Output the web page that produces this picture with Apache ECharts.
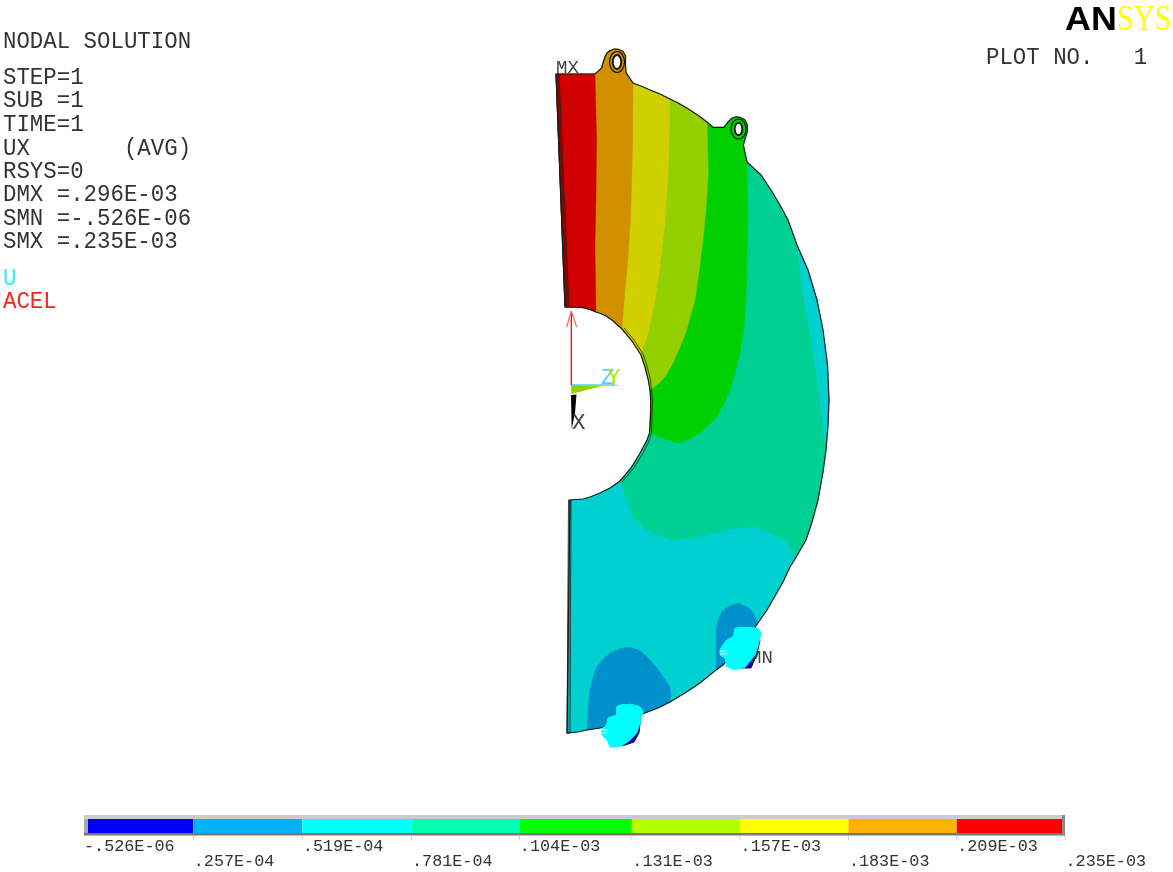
<!DOCTYPE html>
<html><head><meta charset="utf-8">
<style>html,body{margin:0;padding:0;background:#fff}#c{width:1173px;height:872px}</style>
<script src="https://cdn.jsdelivr.net/npm/echarts@6/dist/echarts.min.js"></script>
</head><body><div id="c"></div>
<script>
// ---- colour scale ----
const legendValues=[-0.526e-6,0.257e-4,0.519e-4,0.781e-4,0.104e-3,0.131e-3,0.157e-3,0.183e-3,0.209e-3,0.235e-3];
const legendLabels=['-.526E-06','.257E-04','.519E-04','.781E-04','.104E-03','.131E-03','.157E-03','.183E-03','.209E-03','.235E-03'];
const legendColors=['#0000FF','#00B2FF','#00FFFF','#00FFB2','#00FF00','#B2FF00','#FFFF00','#FFB200','#FF0000'];
const plotColors=['#0000D0','#0090CC','#00D0D0','#00D094','#00D000','#94D000','#D0D000','#D09000','#D00000'];
// ---- geometry (model outline and contour lines) ----
const outerEdge=[[556,74],[595,74],[601.7,68],[603,63],[605,56.7],[607,53],[610,50.7],[614,49],[618.3,49.3],[623,51.5],[625.5,56],[625.5,65],[626,72.7],[633,83],[641,86],[650,90],[660,94],[670,99],[680,104],[690,110],[699,116],[707,122],[713,127.3],[724,127.3],[728,122],[731.7,118.3],[736,116.8],[740,117.3],[745,120],[747.3,125],[747.3,131.7],[745,139],[743.3,145],[747,162],[761,175],[771,190],[780,205],[788,220],[797,245],[808,270],[817,300],[823,330],[827.5,365],[829,400],[828,425],[826,450],[823,472],[818,500],[812,522],[806,540],[795,559],[790,567],[783,582],[775,596],[767,610],[758,623],[749,636],[740,648],[723,665],[716,670],[700,683],[685,693],[670,702],[658,708],[645,713],[622,722],[600,728],[587,730],[578,732],[567,733]];
const holeEdge=[[565,307],[581.7,307.3],[590,309.5],[596,312],[600,313.3],[606,316],[612,320],[622,329],[632,341],[641,355],[645,367],[648.3,380],[650,390],[650.7,400],[650.5,415],[649.5,433],[647,440],[640,453.3],[631,468],[620,481],[610,488],[600,493],[590,497],[583,499],[570,500]];
const contourRed=[[595,74],[596.7,140],[596,200],[595,247],[596,312]];
const contourOrange=[[633,83],[632.7,140],[631.5,190],[630,227],[628,260],[625,290],[622,329]];
const contourYellow=[[670,99],[669.3,140],[667.5,185],[665,223],[660,265],[655,300],[648,333],[641,355]];
const contourYellowGreen=[[707,122],[708.3,173],[706,210],[703,240],[699,272],[695,300],[686.7,330],[680,347],[673,363],[665,377],[658,384],[650,390]];
const contourGreen=[[747,162],[748,207],[747.5,245],[746.7,273],[746,300],[744,328],[740,353],[735,373],[730,390],[724,404],[716.7,417],[708,426],[700,433],[690,439],[678.3,443.3],[664,439],[649.5,433]];
const contourSeaGreen=[[795,559],[791,550],[786.7,541.7],[770,533],[755,526.7],[742,528],[730,529],[706.7,535],[690,538],[673,540.7],[660,536],[646.7,530],[633,518],[627,500],[620,481]];
const contourTeal=[[797,245],[800,270],[803,295],[810,333],[818,385],[826,450]];
const contourBlueRight=[[716,670],[716,630],[718,620],[721.7,611.7],[729,606],[738,603.3],[746,606],[752,611],[755,616],[758,623]];
const contourBlueBottom=[[587,730],[588,708],[590,690],[593,677],[596.7,667],[603,659],[610,653],[619,649],[628,647.3],[635,648.5],[642,652],[650,660],[657,668],[664,678],[670,687],[671,695],[670,702]];
const leftStripTop=[[556,74],[559,74],[569,307],[565,307]];
const leftStripBottom=[[567,733],[570,733],[571,500],[568.5,500]];
const holeInnerLine=[[624,328],[634,340],[643,354],[647,366],[650.5,380],[652.5,400],[652,415],[651.5,433],[649,441],[642,455],[633,469],[622,482]];
const supportDarkBottom=[[622,746],[634,742],[639,733],[641,714],[636,712],[628,704],[622,704]];
const supportDarkRight=[[741,668],[751,668],[757,654],[760,640],[750,640]];
const supportBlobBottom=[[616.7,706.7],[623,704],[632,704.5],[640,706.7],[643,711.7],[640,723],[636.7,733],[630,740],[623.3,745],[616,747],[610,747],[607,740],[601.7,735],[601.7,729],[606.7,725],[608,718],[616.7,715]];
const supportBlobRight=[[735,628.3],[740,627.3],[750,627.5],[758.3,628.3],[761,633.3],[758.3,645],[755,655],[750,661],[745,667.3],[739,669],[733.3,669.3],[726.7,666.7],[725,658],[720,655],[720,649.3],[726.7,640],[733.3,636.7]];
const supportStripes=[[[601,730],[608,730]],[[601,733],[608,733]],[[720,651],[727,651]],[[720,654],[727,654]]];
const lugs=[[617,62,7.5,10.5,4.2,7],[738.5,129,7.5,10,3.8,6.2]];
const triadTriangle=[[571.3,385],[571.3,394],[602,386]];
const triadX=[[571,395],[576.5,394.5],[575,413],[571.7,429]];
const triadAccel=[[[571.3,313],[571.3,385]]];
const triadAccelHead=[[[566.7,327],[571.3,311]],[[576.7,327],[571.3,311]]];
const triadZ=[[571.3,385],[615,385]];
const triadY=[[600,385.5],[618,385.5]];
// ---- annotation text ----
const infoText=[['NODAL SOLUTION',3,42],['STEP=1',3,78],['SUB =1',3,101],['TIME=1',3,125],['UX       (AVG)',3,149],['RSYS=0',3,172],['DMX =.296E-03',3,195],['SMN =-.526E-06',3,219],['SMX =.235E-03',3,242],['PLOT NO.   1',986,58]];
const redText=[['ACEL',3,302]];
const cyanText=[['U',3,279]];
const markMX=['MX',556,68,'#444'];
const markMN=['MN',750,658,'#444'];
const triadLabels=[['X',572,423,'#444'],['Z',601,378,'#55CCFF'],['Y',607,378,'#AAEE00']];

function chain(arr,a,b){
  const ia=arr.findIndex(p=>p[0]===a[0]&&p[1]===a[1]);
  const ib=arr.findIndex(p=>p[0]===b[0]&&p[1]===b[1]);
  return arr.slice(ia,ib+1);
}
function band(contour){
  const o=chain(outerEdge,outerEdge[0],contour[0]);
  const h=chain(holeEdge,holeEdge[0],contour[contour.length-1]).reverse();
  return o.concat(contour.slice(1,-1),h);
}
const wholeShape=outerEdge.concat(holeEdge.slice().reverse());
const tealEnd=contourTeal[contourTeal.length-1];
const fills=[
 {c:plotColors[2],p:wholeShape},
 {c:plotColors[3],p:band(contourSeaGreen)},
 {c:plotColors[2],p:contourTeal.concat(chain(outerEdge,contourTeal[0],tealEnd).reverse().slice(1,-1))},
 {c:plotColors[4],p:band(contourGreen)},
 {c:plotColors[5],p:band(contourYellowGreen)},
 {c:plotColors[6],p:band(contourYellow)},
 {c:plotColors[7],p:band(contourOrange)},
 {c:plotColors[8],p:band(contourRed)},
 {c:plotColors[1],p:contourBlueRight.concat(chain(outerEdge,[758,623],[716,670]).slice(1,-1))},
 {c:plotColors[1],p:contourBlueBottom.concat(chain(outerEdge,[670,702],[587,730]).slice(1,-1))}
];
const pts=(api,p)=>p.map(q=>api.coord(q));
const poly=(api,p,fill,stroke,lw)=>({type:'polygon',shape:{points:pts(api,p)},style:{fill:fill,stroke:stroke||null,lineWidth:lw||0}});
const line=(api,p,stroke,lw)=>({type:'polyline',shape:{points:pts(api,p)},style:{fill:null,stroke:stroke,lineWidth:lw}});
const txt=(api,t,font,fill,sx,sy)=>{const c=api.coord([t[1],t[2]]);return{type:'text',x:c[0],y:c[1],scaleX:sx||1,scaleY:sy||1,style:{text:t[0],font:font,fill:t[3]||fill,align:'left',verticalAlign:'middle'}};};
const MONO='22.4px "Liberation Mono"',MONOS='16.8px "Liberation Mono"',MONOM='19px "Liberation Mono"';

function drawPlot(params,api){
  const ch=[];
  fills.forEach(f=>ch.push(poly(api,f.p,f.c,f.c,0.3)));
  ch.push(poly(api,leftStripTop,'#900000','#222',0.9));
  ch.push(poly(api,leftStripBottom,'#00A8A8','#333',0.9));
  ch.push(poly(api,wholeShape,'none','#1A1A1A',1.2));
  ch.push(line(api,holeInnerLine,'rgba(30,30,0,0.7)',1));
  lugs.forEach(l=>{
    const c=api.coord([l[0],l[1]]);
    ch.push({type:'ellipse',shape:{cx:c[0],cy:c[1],rx:l[2],ry:l[3]},style:{fill:'none',stroke:'#111',lineWidth:1.2}});
    ch.push({type:'ellipse',shape:{cx:c[0],cy:c[1],rx:l[4],ry:l[5]},style:{fill:'#fff',stroke:'#111',lineWidth:1.8}});
  });
  ch.push(poly(api,supportDarkBottom,'#0000C0','#111',1));
  ch.push(poly(api,supportDarkRight,'#0000C0','#111',1));
  ch.push(txt(api,markMN,MONOM,'#444'));
  ch.push(poly(api,supportBlobBottom,'#00FFFF','#00FFFF',1));
  ch.push(poly(api,supportBlobRight,'#00FFFF','#00FFFF',1));
  supportStripes.forEach(s=>ch.push(line(api,s,'#CFFFFF',1)));
  // triad
  ch.push(poly(api,triadTriangle,'#94D000'));
  ch.push(line(api,triadZ,'#55CCFF',1.4));
  ch.push(line(api,triadY,'#AAEE00',1.2));
  ch.push(poly(api,triadX,'#000'));
  triadAccel.forEach(s=>ch.push(line(api,s,'#F00',1.3)));
  triadAccelHead.forEach(s=>ch.push(line(api,s,'#FF6060',1.2)));
  ch.push(txt(api,markMX,MONOM,'#444'));
  triadLabels.forEach(t=>ch.push(txt(api,t,MONO,'#444')));
  infoText.forEach(t=>ch.push(txt(api,t,MONO,'#333',1,1.06)));
  redText.forEach(t=>ch.push(txt(api,t,MONO,'#FF2020',1,1.06)));
  cyanText.forEach(t=>ch.push(txt(api,t,MONO,'#30F0F0',1,1.06)));
  // logo
  ch.push(txt(api,['AN',1065,21],'bold 32px "Liberation Sans"','#000',1.12,1.02));
  ch.push(txt(api,['SYS',1117,21],'31px "Liberation Serif"','#FFFF00',0.95,1.15));
  return {type:'group',children:ch};
}
function drawLegend(params,api){
  const ch=[];
  const yTop=api.coord([0,1])[1],yBot=api.coord([0,0])[1];
  legendColors.forEach((c,i)=>{
    const a=api.coord([legendValues[i],0])[0],b=api.coord([legendValues[i+1],0])[0];
    ch.push({type:'rect',shape:{x:a,y:yTop,width:b-a,height:yBot-yTop},style:{fill:c}});
  });
  const L=api.coord([legendValues[0],0])[0],R=api.coord([legendValues[9],0])[0];
  ch.push({type:'rect',shape:{x:L,y:yTop-4,width:R-L,height:4},style:{fill:'#CCCCCC'}});
  ch.push({type:'rect',shape:{x:L,y:yTop,width:4,height:yBot-yTop+2},style:{fill:'#A8A8A8'}});
  ch.push({type:'rect',shape:{x:L,y:yBot,width:R-L,height:2.5},style:{fill:'#777777'}});
  ch.push({type:'rect',shape:{x:R-3,y:yTop-4,width:3,height:yBot-yTop+6.5},style:{fill:'#8A8A8A'}});
  legendValues.forEach((v,i)=>{
    const x=api.coord([v,0])[0];
    if(i>0) ch.push({type:'line',shape:{x1:x,y1:yBot+2.5,x2:x,y2:yBot+7},style:{stroke:'#CCCCCC',lineWidth:1}});
    ch.push({type:'text',x:x+(i===0?0:0.5),y:i%2?861.5:846.5,style:{text:legendLabels[i],font:MONOS,fill:'#333',align:'left',verticalAlign:'middle'}});
  });
  return {type:'group',children:ch};
}
const chart=echarts.init(document.getElementById('c'),null,{renderer:'canvas'});
chart.setOption({
  animation:false,backgroundColor:'#fff',tooltip:{show:false},
  grid:[{left:0,top:0,width:1173,height:872},{left:84,top:819,width:981,height:14}],
  xAxis:[{type:'value',gridIndex:0,min:0,max:1173,show:false},{type:'value',gridIndex:1,min:legendValues[0],max:legendValues[9],show:false}],
  yAxis:[{type:'value',gridIndex:0,min:0,max:872,inverse:true,show:false},{type:'value',gridIndex:1,min:0,max:1,show:false}],
  series:[
    {type:'custom',xAxisIndex:0,yAxisIndex:0,data:[[0,0]],renderItem:drawPlot,clip:false,silent:true},
    {type:'custom',xAxisIndex:1,yAxisIndex:1,data:[[0,0]],renderItem:drawLegend,clip:false,silent:true}
  ]
});
</script></body></html>
